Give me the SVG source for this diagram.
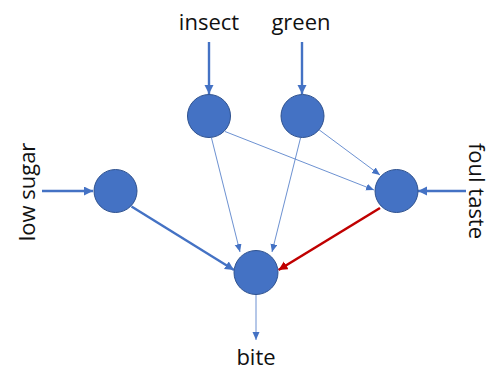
<svg xmlns="http://www.w3.org/2000/svg" width="494" height="371" viewBox="0 0 494 371">
<style>
.node{fill:#4472C4;stroke:#2F528F;stroke-width:1}
.lbl{font-family:"Open Sans",sans-serif;font-size:22px;fill:#111}
.thick{stroke:#4472C4;stroke-width:2.4;fill:none}
.thin{stroke:#5B84CC;stroke-width:0.9;fill:none}
.red{stroke:#C00000;stroke-width:2.6;fill:none}
</style>
<defs>
<marker id="aB" markerUnits="userSpaceOnUse" markerWidth="10" markerHeight="10" refX="9" refY="4.5" orient="auto"><path d="M0,0 L9,4.5 L0,9 z" fill="#4472C4"/></marker>
<marker id="aT" markerUnits="userSpaceOnUse" markerWidth="10" markerHeight="10" refX="8" refY="3.5" orient="auto"><path d="M0,0 L8,3.5 L0,7 z" fill="#4472C4"/></marker>
<marker id="aR" markerUnits="userSpaceOnUse" markerWidth="10" markerHeight="10" refX="9" refY="4.5" orient="auto"><path d="M0,0 L9,4.5 L0,9 z" fill="#C00000"/></marker>
</defs>
<g id="connectors">
<line class="thick" x1="209" y1="42" x2="209" y2="94" marker-end="url(#aB)"/>
<line class="thick" x1="302" y1="42" x2="302" y2="94" marker-end="url(#aB)"/>
<line class="thick" x1="42" y1="191" x2="93" y2="191" marker-end="url(#aB)"/>
<line class="thick" x1="466" y1="191" x2="418" y2="191" marker-end="url(#aB)"/>
<line class="thin" x1="211.5" y1="138" x2="240" y2="252" marker-end="url(#aT)"/>
<line class="thin" x1="300.5" y1="138" x2="272" y2="252" marker-end="url(#aT)"/>
<line class="thin" x1="225" y1="131.5" x2="374" y2="190" marker-end="url(#aT)"/>
<line class="thin" x1="318" y1="129" x2="380" y2="175" marker-end="url(#aT)"/>
<line class="thick" x1="131.5" y1="206.5" x2="234" y2="270" marker-end="url(#aB)"/>
<line class="red" x1="380" y1="208" x2="278.5" y2="270" marker-end="url(#aR)"/>
<line class="thin" x1="256" y1="294" x2="256" y2="340" marker-end="url(#aT)"/>
</g>
<g id="n-insect"><circle class="node" cx="209" cy="116" r="21.5"/><text class="lbl" x="209" y="30" text-anchor="middle">insect</text></g>
<g id="n-green"><circle class="node" cx="302.5" cy="116" r="21.5"/><text class="lbl" x="301" y="30" text-anchor="middle">green</text></g>
<g id="n-lowsugar"><circle class="node" cx="115.5" cy="191" r="21.5"/><text class="lbl" transform="translate(35,192) rotate(-90)" text-anchor="middle">low sugar</text></g>
<g id="n-foultaste"><circle class="node" cx="396.5" cy="191" r="21.5"/><text class="lbl" transform="translate(469,191) rotate(90)" text-anchor="middle" font-size="21">foul taste</text></g>
<g id="n-bite"><circle class="node" cx="256" cy="272.5" r="22"/><text class="lbl" x="256" y="365" text-anchor="middle">bite</text></g>
</svg>
